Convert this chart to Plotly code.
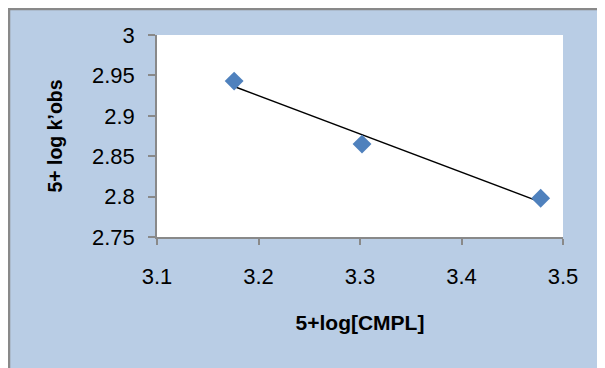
import numpy as np
import plotly.graph_objects as go

# Data
x_vals = [3.176, 3.302, 3.478]
y_vals = [2.943, 2.865, 2.798]
x_ticks = [3.1, 3.2, 3.3, 3.4, 3.5]
y_ticks = [2.75, 2.8, 2.85, 2.9, 2.95, 3.0]
x_title = "5+log[CMPL]"
y_title = "5+ log k’obs"

# linear trendline from data
slope, intercept = np.polyfit(x_vals, y_vals, 1)
fit_x = [min(x_vals), max(x_vals)]
fit_y = [slope * v + intercept for v in fit_x]

# the page has an 8px body margin, so the figure is 8px smaller than the window
W, H = 597, 360
L, R, T, B = 149, 42, 27, 131
pw, ph = W - L - R, H - T - B

def px(xpix):
    return (xpix - L) / pw

def py(ypix):
    return 1 - (ypix - T) / ph

FONT = "Liberation Sans Narrow, Arial Narrow, Liberation Sans, sans-serif"
BLUE_BG = "#B9CDE5"
GRAY = "#898989"

fig = go.Figure()
fig.add_trace(go.Scatter(x=fit_x, y=fit_y, mode="lines",
                         line=dict(color="black", width=1.5),
                         showlegend=False, hoverinfo="skip"))
fig.add_trace(go.Scatter(x=x_vals, y=y_vals, mode="markers",
                         marker=dict(symbol="diamond", size=14.5, color="#4F81BD",
                                     line=dict(width=0)),
                         showlegend=False))

shapes = [
    dict(type="line", xref="paper", yref="paper", x0=px(0), x1=px(W), y0=py(1), y1=py(1),
         line=dict(color=GRAY, width=2.5), layer="below"),
    dict(type="line", xref="paper", yref="paper", x0=px(1), x1=px(1), y0=py(0), y1=py(H),
         line=dict(color=GRAY, width=2.5), layer="below"),
]

fig.update_layout(
    width=W, height=H,
    margin=dict(l=L, r=R, t=T, b=B, pad=0),
    paper_bgcolor=BLUE_BG,
    plot_bgcolor="white",
    font=dict(family=FONT, size=22, color="black"),
    shapes=shapes,
    xaxis=dict(range=[3.1, 3.5], tickvals=x_ticks, ticktext=[f"{v:g}" for v in x_ticks],
               showgrid=False, zeroline=False, showline=True, linecolor=GRAY, linewidth=1.5,
               ticks="outside", ticklen=6, tickcolor=GRAY, tickwidth=1.5,
               ticklabelstandoff=13, tickfont=dict(size=22),
               title=dict(text="<b>" + x_title + "</b>", font=dict(size=21), standoff=27)),
    yaxis=dict(range=[2.75, 3.0], tickvals=y_ticks, ticktext=[f"{v:g}" for v in y_ticks],
               showgrid=False, zeroline=False, showline=True, linecolor=GRAY, linewidth=1.5,
               ticks="outside", ticklen=7, tickcolor=GRAY, tickwidth=1.5,
               ticklabelstandoff=9, tickfont=dict(size=22),
               title=dict(text="<b>" + y_title + "</b>", font=dict(size=19.5), standoff=24)),
)

fig.write_html("out.html")
